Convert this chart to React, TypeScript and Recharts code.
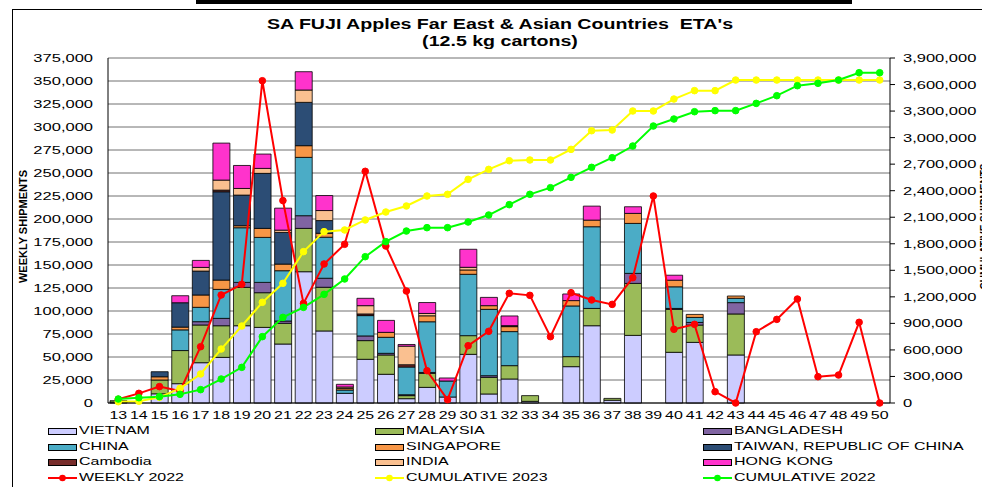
import { ComposedChart, Bar, Line, XAxis, YAxis, CartesianGrid, Legend } from 'recharts';

const FONT = '"Liberation Sans", Arial, sans-serif';

const weeks = [
  '13', '14', '15', '16', '17', '18', '19', '20', '21', '22', '23', '24', '25',
  '26', '27', '28', '29', '30', '31', '32', '33', '34', '35', '36', '37', '38',
  '39', '40', '41', '42', '43', '44', '45', '46', '47', '48', '49', '50',
];

// weekly shipments 2023 per destination (cartons), weeks 13..50
const vietnam = [
  1000, 0, 10000, 21000, 43800, 49600, 84000, 82200, 64100, 142700, 78300, 10500, 47500,
  31200, 4700, 17000, 6500, 52900, 9800, 26100, 1800, 0, 39500, 84000, 3000, 73500,
  0, 55100, 65900, 0, 52200, 0, 0, 0, 0, 0, 0, 0,
];
const malaysia = [
  1500, 0, 15000, 36000, 41000, 34400, 41700, 37700, 22500, 47100, 47500, 0, 20300,
  21000, 3300, 15200, 0, 20300, 18100, 14500, 6200, 0, 10900, 18800, 2000, 56500,
  0, 46700, 18800, 0, 44600, 0, 0, 0, 0, 0, 0, 0,
];
const bangladesh = [
  0, 0, 0, 0, 3600, 8000, 5400, 11200, 2500, 13800, 9800, 0, 5100,
  1800, 1000, 1000, 0, 0, 1800, 0, 0, 0, 0, 0, 0, 10900,
  0, 1000, 2900, 0, 12300, 0, 0, 0, 0, 0, 0, 0,
];
const china = [
  0, 0, 0, 22500, 15600, 31500, 59400, 48900, 54700, 63400, 44600, 3600, 22100,
  17400, 30100, 55100, 17400, 66700, 72100, 37000, 0, 0, 55100, 88800, 0, 54300,
  0, 23500, 5400, 0, 4700, 0, 0, 0, 0, 0, 0, 0,
];
const singapore = [
  0, 0, 3500, 3000, 13400, 10100, 2200, 9800, 7200, 12700, 4300, 1800, 0,
  5400, 0, 6500, 0, 4700, 4000, 5400, 0, 0, 5800, 7200, 0, 10900,
  0, 7200, 3300, 0, 2500, 0, 0, 0, 0, 0, 0, 0,
];
const taiwan = [
  0, 0, 5500, 26500, 26000, 96000, 33300, 59800, 34400, 47100, 13800, 0, 0,
  0, 0, 0, 0, 0, 0, 0, 0, 0, 0, 0, 0, 0,
  0, 0, 0, 0, 0, 0, 0, 0, 0, 0, 0, 0,
];
const cambodia = [
  0, 0, 0, 0, 0, 1800, 0, 0, 0, 0, 0, 0, 1800,
  0, 2500, 0, 0, 0, 0, 1100, 0, 0, 0, 0, 0, 0,
  0, 0, 0, 0, 0, 0, 0, 0, 0, 0, 0, 0,
];
const india = [
  0, 0, 0, 0, 4000, 10900, 7200, 5400, 2500, 13400, 10900, 1500, 9000,
  0, 20200, 2500, 0, 2900, 0, 0, 0, 0, 0, 0, 0, 0,
  0, 0, 0, 0, 0, 0, 0, 0, 0, 0, 0, 0,
];
const hongKong = [
  0, 0, 0, 7600, 7600, 40200, 25000, 15600, 23900, 19900, 16300, 2900, 8000,
  13000, 1800, 11900, 3300, 19600, 9000, 10500, 0, 0, 7200, 15200, 0, 7200,
  0, 5400, 0, 0, 0, 0, 0, 0, 0, 0, 0, 0,
];

const weekly2022 = [
  4000, 10500, 17800, 13000, 61200, 117400, 129000, 350300, 220000, 108300, 151100, 172500, 251800,
  170600, 121700, 35100, 3600, 62300, 77900, 119200, 117000, 72100, 119900, 112000, 107200, 136200,
  225000, 80100, 85500, 12300, 0, 77500, 90900, 113000, 28600, 30400, 87700, 0,
];
const cumulative2023 = [
  15000, 20000, 64000, 166000, 328000, 610000, 870000, 1138000, 1353000, 1711000, 1937000, 1956000, 2069000,
  2159000, 2227000, 2340000, 2359000, 2528000, 2641000, 2739000, 2747000, 2747000, 2867000, 3078000, 3086000, 3301000,
  3301000, 3436000, 3531000, 3531000, 3651000, 3651000, 3651000, 3651000, 3651000, 3651000, 3651000, 3651000,
];
const cumulative2022 = [
  45000, 60000, 72000, 98000, 151000, 271000, 403000, 750000, 968000, 1081000, 1228000, 1402000, 1654000,
  1824000, 1944000, 1982000, 1982000, 2046000, 2125000, 2242000, 2359000, 2434000, 2551000, 2664000, 2773000, 2905000,
  3131000, 3210000, 3293000, 3305000, 3305000, 3387000, 3474000, 3587000, 3614000, 3651000, 3734000, 3734000,
];

const leftTicks = [0, 25000, 50000, 75000, 100000, 125000, 150000, 175000, 200000, 225000, 250000, 275000, 300000, 325000, 350000, 375000];
const rightTicks = [0, 300000, 600000, 900000, 1200000, 1500000, 1800000, 2100000, 2400000, 2700000, 3000000, 3300000, 3600000, 3900000];

const barSeries = [
  { key: 'vietnam', name: 'VIETNAM', color: '#CCCCFF', values: vietnam },
  { key: 'malaysia', name: 'MALAYSIA', color: '#9BBB59', values: malaysia },
  { key: 'bangladesh', name: 'BANGLADESH', color: '#8064A2', values: bangladesh },
  { key: 'china', name: 'CHINA', color: '#4BACC6', values: china },
  { key: 'singapore', name: 'SINGAPORE', color: '#F79646', values: singapore },
  { key: 'taiwan', name: 'TAIWAN, REPUBLIC OF CHINA', color: '#2C4D75', values: taiwan },
  { key: 'cambodia', name: 'Cambodia', color: '#772C2A', values: cambodia },
  { key: 'india', name: 'INDIA', color: '#FAC090', values: india },
  { key: 'hongKong', name: 'HONG KONG', color: '#FF33CC', values: hongKong },
];

const lineSeries = [
  { key: 'weekly2022', name: 'WEEKLY 2022', color: '#FF0000', axis: 'left', values: weekly2022 },
  { key: 'cumulative2023', name: 'CUMULATIVE 2023', color: '#FFFF00', axis: 'right', values: cumulative2023 },
  { key: 'cumulative2022', name: 'CUMULATIVE 2022', color: '#00FF00', axis: 'right', values: cumulative2022 },
];

const data = weeks.map((week, i) => {
  const row: Record<string, string | number> = { week };
  barSeries.forEach((s) => { row[s.key] = s.values[i]; });
  lineSeries.forEach((s) => { row[s.key] = s.values[i]; });
  return row;
});

const fmt = (v: number) => Number(v).toLocaleString('en-US');

// the original chart text is stretched sideways, so ticks get a scaleX
const LeftTick = ({ x, y, payload }: any) => (
  <g transform={`translate(${x},${y})`}>
    <text textAnchor="end" dy="0.36em" transform="scale(1.5,1)" fontSize={11} fontFamily={FONT} fill="#000">
      {fmt(payload.value)}
    </text>
  </g>
);

const RightTick = ({ x, y, payload }: any) => (
  <g transform={`translate(${x},${y})`}>
    <text textAnchor="start" dy="0.36em" transform="scale(1.5,1)" fontSize={11} fontFamily={FONT} fill="#000">
      {fmt(payload.value)}
    </text>
  </g>
);

const WeekTick = ({ x, y, payload }: any) => (
  <g transform={`translate(${x},${y})`}>
    <text textAnchor="middle" dy="0.71em" transform="scale(1.45,1)" fontSize={11} fontFamily={FONT} fill="#000">
      {payload.value}
    </text>
  </g>
);

const LeftTitle = ({ viewBox }: any) => {
  const cx = viewBox.x + 15;
  const cy = viewBox.y + viewBox.height / 2 - 4;
  return (
    <text x={cx} y={cy} transform={`rotate(-90, ${cx}, ${cy})`} textAnchor="middle" dominantBaseline="central"
      fontSize={11} fontWeight="bold" fontFamily={FONT} fill="#000">
      WEEKLY SHIPMENTS
    </text>
  );
};

// secondary axis title sits mostly off the right edge, as in the source image
const RightTitle = ({ viewBox }: any) => {
  const cx = viewBox.x + viewBox.width + 2;
  const cy = viewBox.y + viewBox.height / 2 - 4;
  return (
    <text x={cx} y={cy} transform={`rotate(-90, ${cx}, ${cy})`} textAnchor="middle" dominantBaseline="central"
      fontSize={10} fontWeight="bold" fontFamily={FONT} fill="#000">
      CUMULATIVE SHIPMENTS
    </text>
  );
};

const legendCols = [48, 375, 703];
const ROW_H = 15.5;

const ChartLegend = () => {
  const items = [
    ...barSeries.map((s) => ({ name: s.name, color: s.color, kind: 'bar' })),
    ...lineSeries.map((s) => ({ name: s.name, color: s.color, kind: 'line' })),
  ];
  return (
    <div style={{ position: 'relative', width: 982, height: 62, fontFamily: FONT }}>
      {items.map((item, i) => {
        const left = legendCols[i % 3];
        const top = Math.floor(i / 3) * ROW_H;
        return (
          <div key={item.name} style={{ position: 'absolute', left, top, height: ROW_H, width: 320 }}>
            {item.kind === 'bar' ? (
              <div style={{
                position: 'absolute', left: 0, top: 5, width: 27, height: 5,
                background: item.color, border: '1px solid #000',
              }} />
            ) : (
              <svg width={29} height={ROW_H} style={{ position: 'absolute', left: 0, top: 0 }}>
                <line x1={0} x2={29} y1={8} y2={8} stroke={item.color} strokeWidth={2} />
                <circle cx={14.5} cy={8} r={3.3} fill={item.color} />
              </svg>
            )}
            <span style={{
              position: 'absolute', left: 31, top: 0, fontSize: 11, lineHeight: `${ROW_H}px`,
              whiteSpace: 'nowrap', transform: 'scaleX(1.45)', transformOrigin: 'left center', color: '#000',
            }}>
              {item.name}
            </span>
          </div>
        );
      })}
    </div>
  );
};

export default function App() {
  return (
    <div style={{ position: 'absolute', left: 0, top: 0, width: 982, height: 487, overflow: 'hidden', background: '#fff' }}>
      <div style={{ position: 'absolute', left: 196, top: 0, width: 656, height: 4, background: '#000' }} />
      <div style={{ position: 'absolute', left: 12, top: 9, width: 1000, height: 500, border: '1px solid #000' }} />
      <div style={{
        position: 'absolute', left: 0, top: 16, width: 1000, textAlign: 'center', fontFamily: FONT,
        fontWeight: 'bold', fontSize: 14, lineHeight: '17px', transform: 'scaleX(1.4)', transformOrigin: '50% 0',
      }}>
        <div>SA FUJI Apples Far East &amp; Asian Countries&nbsp; ETA's</div>
        <div>(12.5 kg cartons)</div>
      </div>
      <div style={{ position: 'absolute', left: 0, top: 0 }}>
        <ComposedChart width={982} height={487} data={data} margin={{ top: 58, right: 0, bottom: 4, left: 8 }}
          barSize={17}>
          <CartesianGrid yAxisId="left" vertical={false} stroke="#707070" strokeWidth={1} />
          <XAxis dataKey="week" interval={0} tick={<WeekTick />} tickLine={false} tickSize={0} tickMargin={8}
            height={20} axisLine={{ stroke: '#000' }} />
          <YAxis yAxisId="left" width={100} domain={[0, 375000]} ticks={leftTicks} interval={0}
            tick={<LeftTick />} tickLine={false} tickSize={0} tickMargin={15} axisLine={{ stroke: '#000' }}
            label={{ value: 'WEEKLY SHIPMENTS', content: <LeftTitle /> }} />
          <YAxis yAxisId="right" orientation="right" width={92} domain={[0, 3900000]} ticks={rightTicks}
            interval={0} tick={<RightTick />} tickLine={{ stroke: '#000' }} tickSize={5} tickMargin={8}
            axisLine={{ stroke: '#000' }} label={{ value: 'CUMULATIVE SHIPMENTS', content: <RightTitle /> }} />
          <Legend verticalAlign="bottom" height={60} wrapperStyle={{ left: 0, bottom: 4, width: 982 }}
            content={<ChartLegend />} />
          {barSeries.map((s) => (
            <Bar key={s.key} yAxisId="left" dataKey={s.key} name={s.name} stackId="ship" fill={s.color}
              stroke="#000" strokeWidth={0.8} isAnimationActive={false} />
          ))}
          {lineSeries.map((s) => (
            <Line key={s.key} yAxisId={s.axis} dataKey={s.key} name={s.name} type="linear" stroke={s.color}
              strokeWidth={2} dot={{ r: 3.3, fill: s.color, stroke: s.color, strokeWidth: 1 }}
              activeDot={false} isAnimationActive={false} />
          ))}
        </ComposedChart>
      </div>
    </div>
  );
}
